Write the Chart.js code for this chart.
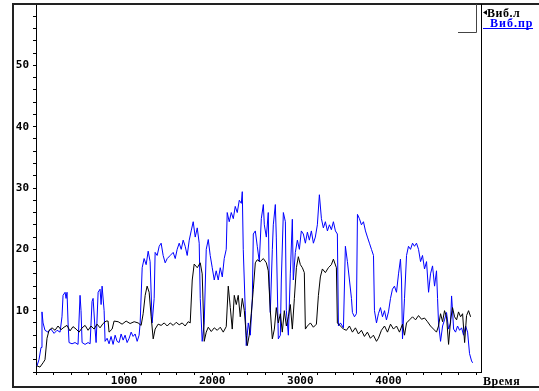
<!DOCTYPE html>
<html>
<head>
<meta charset="utf-8">
<script src="https://cdn.jsdelivr.net/npm/chart.js@4/dist/chart.umd.min.js"></script>
<style>
html,body{margin:0;padding:0;background:#fff;}
canvas{display:block;}
</style>
</head>
<body>
<canvas id="c" width="539" height="391"></canvas>
<script>
// ---- data ----
const seriesNames = ["Виб.л", "Виб.пр"];
const xAxisTitle = "Время";
const xTickLabels = [1000, 2000, 3000, 4000];
const yTickLabels = [10, 20, 30, 40, 50];

const leftTime = [11,45,80,102,125,148,182,216,250,284,318,352,386,420,455,489,523,557,591,625,659,693,727,761,795,818,829,864,886,932,977,1023,1068,1114,1159,1193,1216,1239,1261,1284,1307,1330,1352,1386,1420,1455,1489,1523,1557,1591,1625,1659,1693,1727,1750,1773,1795,1830,1864,1886,1909,1932,1955,1989,2023,2057,2091,2125,2159,2182,2205,2227,2250,2273,2295,2318,2341,2364,2386,2398,2420,2443,2466,2489,2511,2545,2580,2614,2636,2659,2682,2705,2727,2750,2773,2795,2818,2841,2864,2886,2909,2932,2955,2977,3000,3023,3045,3057,3080,3114,3148,3182,3205,3227,3250,3284,3318,3352,3375,3409,3420,3455,3489,3523,3557,3591,3625,3659,3693,3727,3761,3795,3829,3864,3886,3920,3955,3989,4023,4057,4091,4125,4159,4182,4205,4239,4273,4307,4341,4375,4409,4443,4477,4511,4545,4568,4591,4614,4636,4659,4682,4705,4727,4750,4773,4795,4818,4841,4864,4886,4909,4932];
const leftValues = [1.0,0.8,1.5,2.0,5.5,6.8,7.2,6.8,7.5,6.9,7.3,7.6,6.7,7.4,7.0,6.5,7.2,7.6,6.8,7.5,7.0,7.8,7.2,7.9,8.3,8.3,6.5,7.0,8.3,8.2,7.8,8.3,7.9,8.2,8.0,7.6,9.5,12.5,14.0,13.0,9.0,5.4,7.0,7.8,7.6,8.0,7.5,8.0,7.6,8.1,7.7,8.0,7.5,8.2,8.0,15.0,17.6,17.0,17.8,16.0,5.0,6.5,7.3,6.6,7.2,6.8,7.3,6.5,7.4,14.0,10.5,7.0,12.5,11.0,12.5,9.0,12.0,10.0,6.0,4.3,6.0,9.5,13.5,17.8,18.3,18.0,18.5,17.8,16.5,10.0,5.4,7.0,10.5,8.0,9.5,6.5,10.0,7.5,9.0,11.0,7.0,12.0,17.0,18.8,17.5,17.0,16.2,7.0,7.5,8.0,7.3,7.8,12.5,15.5,16.8,16.2,17.0,17.5,18.4,17.0,8.0,7.5,7.0,6.8,7.5,6.5,7.2,6.2,6.8,5.8,6.5,5.5,6.0,5.0,5.5,6.8,7.5,6.5,7.8,7.0,7.5,6.5,7.8,6.0,8.0,8.5,9.0,8.5,9.2,8.6,8.8,8.2,7.5,7.0,6.5,7.5,9.5,8.2,10.0,9.0,4.5,8.5,10.5,9.0,8.5,9.8,9.0,9.5,4.8,9.2,10.0,9.0];

const rightTime = [11,34,57,68,80,102,136,170,205,239,273,295,307,330,341,352,364,375,409,443,477,500,511,523,557,591,614,636,648,670,682,705,727,739,750,773,784,807,829,852,875,898,920,943,966,989,1011,1034,1057,1080,1102,1125,1148,1170,1182,1205,1227,1250,1273,1295,1318,1341,1352,1375,1398,1420,1443,1466,1489,1523,1557,1580,1602,1625,1648,1670,1693,1716,1739,1761,1784,1807,1830,1852,1864,1886,1909,1932,1955,1977,2000,2023,2045,2068,2091,2114,2136,2159,2170,2193,2216,2239,2261,2284,2307,2330,2341,2352,2375,2386,2409,2432,2455,2466,2489,2511,2534,2557,2580,2591,2614,2636,2648,2659,2682,2693,2716,2727,2750,2773,2784,2807,2830,2841,2864,2886,2909,2920,2943,2966,2989,3011,3034,3057,3080,3102,3125,3148,3170,3193,3216,3239,3261,3284,3307,3330,3352,3375,3398,3420,3432,3455,3489,3511,3534,3557,3580,3591,3614,3636,3648,3670,3693,3716,3739,3761,3784,3807,3830,3841,3864,3886,3909,3932,3955,3977,4000,4023,4045,4068,4091,4114,4136,4148,4159,4182,4205,4227,4250,4273,4295,4318,4341,4364,4386,4409,4432,4455,4477,4500,4523,4545,4557,4568,4591,4614,4636,4659,4682,4705,4716,4727,4739,4761,4784,4807,4830,4852,4875,4898,4920,4943,4955];
const rightValues = [1.0,2.0,4.0,9.8,8.0,6.8,6.5,7.0,6.3,6.8,6.5,9.0,12.5,13.0,12.0,13.0,8.0,4.8,4.6,4.8,4.5,12.5,10.0,4.8,4.5,4.8,4.6,11.5,12.0,7.0,4.8,13.0,13.5,11.0,14.0,10.0,5.0,5.5,4.6,5.8,4.5,6.0,5.0,4.8,6.2,5.2,6.0,4.8,5.5,6.5,5.8,6.2,5.0,6.0,8.0,17.0,18.5,17.5,19.7,18.0,8.0,12.0,19.5,19.0,20.5,21.0,19.0,17.8,18.5,19.0,19.5,18.5,20.0,21.0,20.0,21.5,20.5,19.0,21.5,23.0,24.5,22.0,23.5,21.0,12.0,5.0,8.0,20.0,21.6,19.0,17.0,15.0,16.5,15.0,17.0,15.5,18.5,20.0,26.0,24.5,26.0,25.0,27.0,26.0,28.0,27.5,29.4,20.0,10.0,4.3,8.0,6.0,12.0,22.5,23.0,20.5,18.0,25.0,27.3,24.0,22.0,26.0,14.0,9.7,20.0,24.0,27.3,22.0,5.4,6.0,15.0,26.0,24.5,10.0,6.0,16.0,24.9,15.0,19.5,21.5,20.0,23.0,22.5,21.0,22.8,21.5,23.0,21.0,22.0,24.0,28.9,25.0,23.5,24.5,23.0,24.0,23.2,24.5,23.0,22.5,7.5,8.0,7.2,20.5,18.0,15.0,12.0,9.7,9.0,9.5,25.7,25.0,24.0,24.5,23.0,22.0,21.0,20.0,19.0,10.0,8.0,9.5,10.5,9.0,10.0,8.5,9.8,12.0,13.5,14.0,13.0,16.0,18.4,15.0,5.4,12.0,19.0,20.5,20.0,21.0,20.5,21.0,20.0,18.0,19.0,16.8,18.0,13.0,16.0,17.3,14.0,16.5,12.0,8.0,5.0,7.5,8.5,9.7,7.0,8.0,12.4,10.0,7.0,6.5,7.5,6.8,7.2,6.0,7.5,6.5,3.0,1.8,1.5];

// ---- build points ----
const leftPts = leftTime.map((t, i) => ({x: t, y: leftValues[i]}));
const rightPts = rightTime.map((t, i) => ({x: t, y: rightValues[i]}));

const tickFont = {family: '"DejaVu Sans Mono", monospace', weight: 'bold', size: 11};

const decor = {
  id: 'decor',
  beforeDraw(chart) {
    const ctx = chart.ctx;
    ctx.save();
    ctx.fillStyle = '#fff';
    ctx.fillRect(0, 0, chart.width, chart.height);
    ctx.restore();
  },
  afterDraw(chart) {
    const ctx = chart.ctx;
    const a = chart.chartArea;
    ctx.save();
    // outer frame
    ctx.strokeStyle = '#222';
    ctx.lineWidth = 2;
    ctx.beginPath();
    ctx.moveTo(13, 388); ctx.lineTo(13, 4); ctx.lineTo(539, 4);
    ctx.moveTo(12, 387); ctx.lineTo(539, 387);
    ctx.stroke();
    // plot right border
    ctx.lineWidth = 1;
    ctx.strokeStyle = '#000';
    ctx.beginPath();
    ctx.moveTo(a.right + 0.5, 4); ctx.lineTo(a.right + 0.5, a.bottom + 0.5);
    ctx.stroke();
    // small box at top right of plot
    ctx.strokeStyle = '#444';
    ctx.beginPath();
    ctx.moveTo(476.5, 4); ctx.lineTo(476.5, 32.5); ctx.lineTo(458, 32.5);
    ctx.stroke();
    // legend
    ctx.fillStyle = '#000';
    ctx.beginPath();
    ctx.moveTo(483, 12.5); ctx.lineTo(487, 10); ctx.lineTo(487, 15); ctx.closePath();
    ctx.fill();
    ctx.font = 'bold 12px "Liberation Serif", serif';
    ctx.textBaseline = 'alphabetic';
    ctx.textAlign = 'left';
    ctx.letterSpacing = '0.5px';
    ctx.fillText(seriesNames[0], 487, 17);
    ctx.fillStyle = '#0000ff';
    ctx.letterSpacing = '1px';
    ctx.fillText(seriesNames[1], 490, 26.5);
    ctx.strokeStyle = '#0000ff';
    ctx.beginPath();
    ctx.moveTo(483, 28.5); ctx.lineTo(533, 28.5);
    ctx.stroke();
    // axis title
    ctx.fillStyle = '#000';
    ctx.letterSpacing = '0.5px';
    ctx.fillText(xAxisTitle, 483, 385);
    ctx.restore();
  }
};

new Chart(document.getElementById('c'), {
  type: 'line',
  data: {
    datasets: [
      {label: seriesNames[0], data: leftPts, borderColor: '#000000', borderWidth: 1, pointRadius: 0, tension: 0, fill: false},
      {label: seriesNames[1], data: rightPts, borderColor: '#0000ff', borderWidth: 1, pointRadius: 0, tension: 0, fill: false}
    ]
  },
  options: {
    responsive: false,
    animation: false,
    devicePixelRatio: 1,
    layout: {padding: {top: 4, right: 58, left: 0, bottom: 0}},
    plugins: {legend: {display: false}, tooltip: {enabled: false}},
    scales: {
      x: {
        type: 'linear', position: 'bottom', min: 0, max: 5050,
        afterFit: s => { s.height = 19; s.paddingLeft = 0; s.paddingRight = 0; },
        border: {display: true, color: '#000', width: 1},
        grid: {display: true, drawOnChartArea: false, drawTicks: true, tickLength: 3, color: '#000'},
        ticks: {
          stepSize: 200, includeBounds: false, autoSkip: false, maxRotation: 0,
          padding: 0, color: '#000', font: tickFont,
          callback: v => xTickLabels.includes(v) ? String(v) : ''
        }
      },
      y: {
        type: 'linear', min: 0, max: 60,
        afterFit: s => { s.width = 36; s.paddingTop = 0; s.paddingBottom = 0; },
        border: {display: true, color: '#000', width: 1},
        grid: {display: true, drawOnChartArea: false, drawTicks: true, tickLength: 3, color: '#000'},
        ticks: {
          stepSize: 2, autoSkip: false, padding: 4, color: '#000', font: tickFont,
          callback: v => yTickLabels.includes(v) ? String(v) : ''
        }
      }
    }
  },
  plugins: [decor]
});
</script>
</body>
</html>
